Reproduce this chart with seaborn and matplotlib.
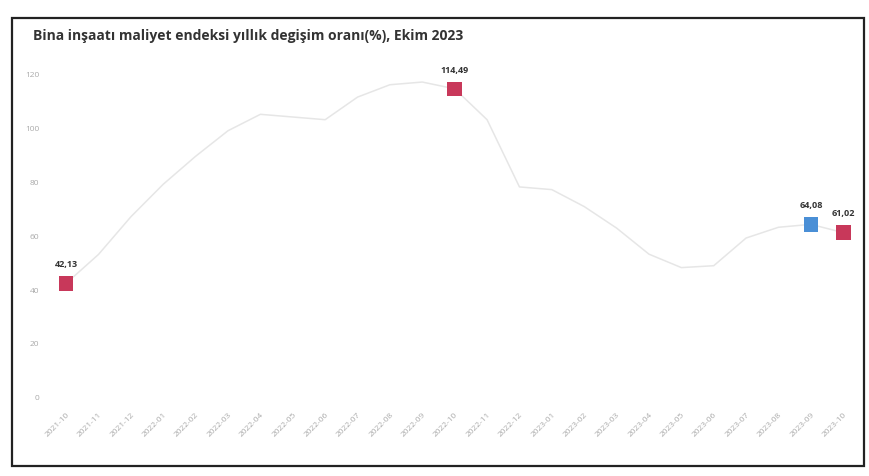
import numpy as np
import pandas as pd
import matplotlib
matplotlib.use("Agg")
import matplotlib.pyplot as plt
import seaborn as sns
from matplotlib.patches import Rectangle

months = ["2021-10", "2021-11", "2021-12", "2022-01", "2022-02", "2022-03",
          "2022-04", "2022-05", "2022-06", "2022-07", "2022-08", "2022-09",
          "2022-10", "2022-11", "2022-12", "2023-01", "2023-02", "2023-03",
          "2023-04", "2023-05", "2023-06", "2023-07", "2023-08", "2023-09",
          "2023-10"]
values = [42.13, 52.9, 66.9, 79.0, 89.4, 98.9, 105.0, 104.0, 103.0, 111.4,
          116.0, 117.0, 114.49, 103.0, 78.0, 77.0, 70.7, 62.7, 53.0, 48.0,
          48.7, 59.0, 63.0, 64.08, 61.02]

# highlighted points: October of each year (red) and previous month (blue)
hl_months = ["2021-10", "2022-10", "2023-09", "2023-10"]
hl_labels = ["42,13", "114,49", "64,08", "61,02"]
hl_kind = ["ekim", "ekim", "onceki", "ekim"]

y_ticks = [0, 20, 40, 60, 80, 100, 120]

df = pd.DataFrame({"ay": months, "deger": values})
df["pos"] = np.arange(len(df))
hl = df[df["ay"].isin(hl_months)].copy()
hl["etiket"] = hl_labels
hl["tur"] = hl_kind

sns.set_style("white")
plt.rcParams["font.family"] = ["Open Sans", "DejaVu Sans"]

fig = plt.figure(figsize=(8.69, 4.77), dpi=100)
ax = fig.add_axes([0.05, 0.155, 0.939, 0.716])

# photographed frame around the chart
fig.patches.append(Rectangle((0.014, 0.02), 0.98, 0.94, transform=fig.transFigure,
                             fill=False, edgecolor="#222222", linewidth=1.6))

sns.lineplot(data=df, x="pos", y="deger", ax=ax, color="#e6e6e6", linewidth=1.1)
sns.scatterplot(data=hl, x="pos", y="deger", hue="tur", ax=ax, marker="s", s=110,
                palette={"ekim": "#c8385a", "onceki": "#4a8fd6"},
                edgecolor="none", legend=False, zorder=5)

for _, r in hl.iterrows():
    ax.annotate(r["etiket"], (r["pos"], r["deger"]), xytext=(0, 11),
                textcoords="offset points", ha="center", va="bottom",
                fontsize=6.5, color="#333333", fontweight="bold")

ax.set_xlim(-0.7, 24.5)
ax.set_ylim(-2, 125)
ax.set_yticks(y_ticks)
ax.set_yticklabels([str(t) for t in y_ticks], fontsize=6, color="#aaaaaa")
ax.set_xticks(df["pos"])
ax.set_xticklabels(months, rotation=45, ha="right", rotation_mode="anchor",
                   fontsize=6, color="#aaaaaa")
ax.tick_params(axis="x", length=0, pad=6)
ax.tick_params(axis="y", length=0, pad=3)
ax.set_xlabel("")
ax.set_ylabel("")
sns.despine(ax=ax, left=True, bottom=True)

fig.text(0.038, 0.925, "Bina inşaatı maliyet endeksi yıllık degişim oranı(%), Ekim 2023",
         fontsize=10, fontweight="bold", color="#333333", ha="left", va="center")

fig.savefig("out.png", dpi=100)
